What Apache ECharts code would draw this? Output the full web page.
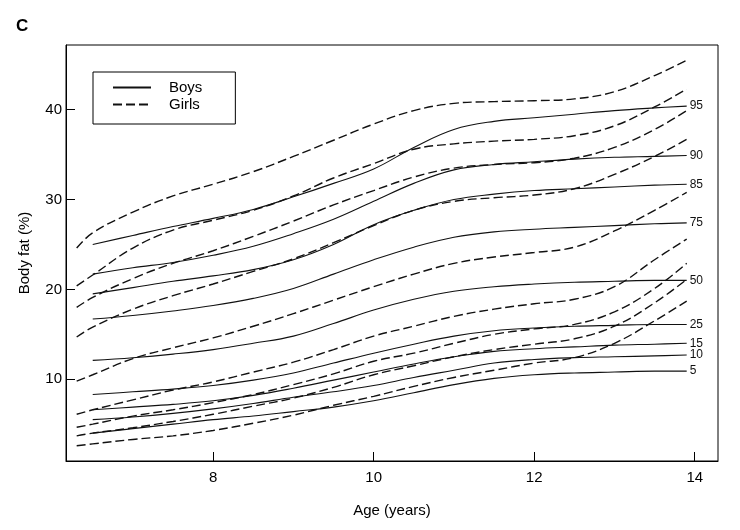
<!DOCTYPE html>
<html>
<head>
<meta charset="utf-8">
<script src="https://cdn.jsdelivr.net/npm/echarts@6/dist/echarts.min.js"></script>
<style>html,body{margin:0;padding:0;background:#fff}#c{width:740px;height:530px}</style>
</head>
<body>
<div id="c"></div>
<script>
const percentiles = ['95', '90', '85', '75', '50', '25', '15', '10', '5'];
const girlsAge = [6.3, 6.5, 7, 7.5, 8, 8.5, 9, 9.5, 10, 10.5, 11, 11.5, 12, 12.5, 13, 13.5, 13.9];
const boysAge = [6.5, 7, 7.5, 8, 8.5, 9, 9.5, 10, 10.5, 11, 11.5, 12, 12.5, 13, 13.5, 13.9];
const xTicks = [8, 10, 12, 14];
const yTicks = [10, 20, 30, 40];

const girls95 = [24.6, 26.3, 28.6, 30.4, 31.7, 33.1, 34.8, 36.6, 38.4, 39.9, 40.7, 40.9, 41.0, 41.2, 42.0, 43.8, 45.5];
const girls90 = [20.4, 21.6, 24.6, 26.6, 27.7, 28.8, 30.4, 32.4, 34.0, 35.6, 36.2, 36.5, 36.7, 37.1, 38.2, 40.3, 42.3];
const girls85 = [18.0, 19.1, 21.2, 22.9, 24.3, 25.9, 27.6, 29.4, 31.0, 32.5, 33.5, 33.9, 34.1, 34.6, 35.8, 37.8, 39.9];
const girls75 = [14.7, 15.8, 17.8, 19.3, 20.6, 22.0, 23.4, 25.2, 27.1, 28.8, 29.8, 30.2, 30.5, 31.2, 32.8, 34.8, 36.7];
const girls50 = [9.8, 10.5, 12.3, 13.5, 14.6, 15.9, 17.3, 18.8, 20.3, 21.7, 22.9, 23.6, 24.1, 24.7, 26.5, 28.8, 30.8];
const girls25 = [6.1, 6.6, 7.7, 8.8, 9.7, 10.8, 11.9, 13.3, 14.8, 15.9, 17.0, 17.8, 18.4, 18.9, 20.3, 23.3, 25.6];
const girls15 = [4.65, 5.0, 5.9, 6.6, 7.4, 8.3, 9.4, 10.6, 12.0, 12.9, 14.0, 15.0, 15.6, 16.1, 17.5, 20.1, 22.9];
const girls10 = [3.7, 4.0, 4.6, 5.3, 6.1, 7.0, 7.9, 9.1, 10.5, 11.5, 12.5, 13.3, 13.9, 14.5, 15.9, 18.5, 21.1];
const girls5 = [2.6, 2.8, 3.3, 3.7, 4.3, 5.1, 6.0, 7.1, 8.1, 9.2, 10.2, 11.0, 11.8, 12.4, 14.0, 16.5, 18.7];

const boys95 = [25.0, 26.0, 27.0, 27.9, 28.9, 30.3, 31.8, 33.4, 35.8, 37.8, 38.7, 39.1, 39.5, 39.9, 40.2, 40.4];
const boys90 = [21.7, 22.4, 23.0, 23.8, 24.8, 26.2, 27.8, 29.8, 31.8, 33.3, 33.9, 34.2, 34.5, 34.7, 34.8, 34.9];
const boys85 = [19.5, 20.2, 20.9, 21.5, 22.2, 23.3, 25.0, 27.2, 28.8, 30.0, 30.6, 31.0, 31.2, 31.4, 31.6, 31.7];
const boys75 = [16.7, 17.1, 17.6, 18.2, 19.0, 20.1, 21.7, 23.3, 24.7, 25.8, 26.4, 26.7, 26.9, 27.1, 27.3, 27.4];
const boys50 = [12.1, 12.4, 12.8, 13.3, 14.0, 14.8, 16.2, 17.7, 18.9, 19.8, 20.3, 20.6, 20.8, 20.9, 21.0, 21.0];
const boys25 = [8.3, 8.6, 8.9, 9.3, 9.9, 10.7, 11.8, 12.9, 13.9, 14.8, 15.4, 15.7, 15.9, 16.0, 16.1, 16.1];
const boys15 = [6.6, 6.9, 7.2, 7.6, 8.2, 9.0, 9.9, 10.8, 11.7, 12.5, 13.1, 13.4, 13.6, 13.8, 13.9, 14.0];
const boys10 = [5.5, 5.8, 6.2, 6.7, 7.3, 8.0, 8.6, 9.3, 10.2, 11.0, 11.8, 12.2, 12.4, 12.5, 12.6, 12.7];
const boys5 = [4.0, 4.5, 5.0, 5.5, 5.9, 6.4, 6.9, 7.6, 8.5, 9.4, 10.1, 10.5, 10.7, 10.8, 10.9, 10.9];

const girlsSeriesValues = [girls95, girls90, girls85, girls75, girls50, girls25, girls15, girls10, girls5];
const boysSeriesValues = [boys95, boys90, boys85, boys75, boys50, boys25, boys15, boys10, boys5];

const FONT = '"Liberation Sans", Arial, sans-serif';
const pair = (ages, vals) => ages.map((a, i) => [a, vals[i]]);

const series = [];
boysSeriesValues.forEach((vals, k) => {
  series.push({
    name: 'Boys', type: 'line', data: pair(boysAge, vals),
    smooth: 0.4, symbol: 'none', silent: true,
    lineStyle: { color: '#111', width: 1.1, type: 'solid' },
    itemStyle: { color: '#111' },
    endLabel: { show: true, formatter: percentiles[k], distance: 3, color: '#111', fontSize: 12, fontFamily: FONT }
  });
});
girlsSeriesValues.forEach((vals) => {
  series.push({
    name: 'Girls', type: 'line', data: pair(girlsAge, vals),
    smooth: 0.4, symbol: 'none', silent: true,
    lineStyle: { color: '#111', width: 1.4, type: [9, 4] },
    itemStyle: { color: '#111' }
  });
});

const chart = echarts.init(document.getElementById('c'));
chart.setOption({
  animation: false,
  backgroundColor: '#fff',
  title: { text: 'C', left: 11, top: 13, textStyle: { fontSize: 17, fontWeight: 'bold', color: '#000', fontFamily: FONT } },
  legend: {
    data: ['Boys', 'Girls'], orient: 'vertical', left: 93, top: 72,
    padding: [8, 33, 12, 19], borderColor: '#000', borderWidth: 1, borderRadius: 0,
    itemWidth: 38, itemHeight: 14, itemGap: 2, selectedMode: false,
    itemStyle: { opacity: 0 },
    textStyle: { fontSize: 15, color: '#000', fontFamily: FONT, padding: [0, 0, 0, 13] }
  },
  grid: { left: 66, right: 22, top: 45, bottom: 69, show: true, borderColor: '#000', borderWidth: 1, containLabel: false },
  xAxis: {
    type: 'value', min: 6.167, max: 14.29,
    name: 'Age (years)', nameLocation: 'middle', nameGap: 42,
    nameTextStyle: { fontSize: 15, color: '#000', fontFamily: FONT },
    axisLine: { show: true, lineStyle: { color: '#000', width: 1 } },
    axisTick: { show: true, inside: true, length: 9, customValues: xTicks, lineStyle: { color: '#000' } },
    axisLabel: { customValues: xTicks, color: '#000', fontSize: 15, margin: 9, fontFamily: FONT },
    splitLine: { show: false }
  },
  yAxis: {
    type: 'value', min: 0.9, max: 47.2,
    name: 'Body fat (%)', nameLocation: 'middle', nameGap: 34, nameRotate: 90,
    nameTextStyle: { fontSize: 15, color: '#000', fontFamily: FONT },
    axisLine: { show: true, lineStyle: { color: '#000', width: 1 } },
    axisTick: { show: true, inside: true, length: 9, customValues: yTicks, lineStyle: { color: '#000' } },
    axisLabel: { customValues: yTicks, color: '#000', fontSize: 15, margin: 4, fontFamily: FONT },
    splitLine: { show: false }
  },
  series: series
});
</script>
</body>
</html>
